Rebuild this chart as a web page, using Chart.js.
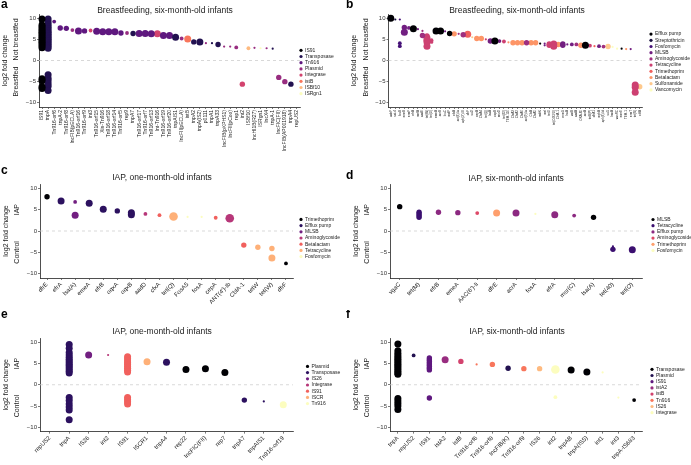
<!DOCTYPE html>
<html>
<head>
<meta charset="utf-8">
<script src="https://cdn.jsdelivr.net/npm/chart.js@4.4.1/dist/chart.umd.min.js"></script>
<style>
  body { margin: 0; background: #fff; }
  #fig { position: relative; width: 691px; height: 465px; overflow: hidden; }
  canvas { position: absolute; }
</style>
</head>
<body>
<div id="fig">
  <canvas id="pa" width="345" height="155" style="left:0;top:0"></canvas>
  <canvas id="pb" width="346" height="155" style="left:345px;top:0"></canvas>
  <canvas id="pc" width="345" height="155" style="left:0;top:155px"></canvas>
  <canvas id="pd" width="346" height="155" style="left:345px;top:155px"></canvas>
  <canvas id="pe" width="345" height="155" style="left:0;top:310px"></canvas>
  <canvas id="pf" width="346" height="155" style="left:345px;top:310px"></canvas>
</div>
<script>
const yTicks = [-10, -5, 0, 5, 10];

// a: breastfeeding, six-month-old, mobile elements
const aGenes = ["IS91", "tnpA", "Tn916-orf6", "tnpA-2", "Tn916-orf8", "IncFIB(pECLA)", "Tn916-orf16",
  "Tn916-orf9", "int3", "Tn916-orf15", "Xis-Tn916", "Tn916-orf18", "Tn916-orf14", "Tn916-orf5", "rep9",
  "tnpA7", "Tn916-orf17", "Tn916-orf7", "Tn916-orf13", "Int-Tn916", "Tn916-orf19", "Tn916-orf20",
  "tnpAIS1", "IncFII(pECLA)", "istB", "tnpA2", "tnpA(IS2)", "p0111", "tnpA1", "tnpA33",
  "IncFIB(pKPHS1)", "IncFII(pCoo)", "rep1", "int2", "ISBf10", "IncHI1B(R27)", "ISRgn1", "IncX4",
  "tnpA-1", "IncFIC(FII)", "IncFIB(AP001918)", "tnpA4", "repUS2"];
const aGroups = ["IS91", "Transposase", "Tn916", "Plasmid", "Integrase", "istB", "ISBf10", "ISRgn1"];
const aGroupOf = [0, 1, 2, 2, 2, 3, 2, 2, 4, 2, 2, 2, 2, 2, 3, 1, 2, 2, 2, 4, 2, 2, 1, 3, 5, 1, 1, 3, 1, 1,
  3, 3, 3, 4, 6, 3, 7, 3, 1, 3, 3, 1, 3];
const aLfc = [
  [9.8, 8.4, 8.0, 7.5, 7.1, 6.7, 6.3, 5.9, 5.5, 5.1, 4.7, 4.3, 3.9, 3.5, 3.0, -4.3, -4.8, -6.2, -6.6],
  [9.8, 9.1, 8.5, 8.0, 7.5, 7.0, 6.6, 6.2, 5.8, 5.4, 5.0, 4.6, 4.2, 3.8, 3.4, 2.9, -3.4, -4.2, -4.8, -5.5, -6.1, -7.1],
  [9.2], [7.7], [7.6], [7.2], [7.0], [7.0], [7.1], [6.9], [6.8], [6.8], [6.8], [6.5], [6.5], [6.4],
  [6.4], [6.4], [6.3], [6.3], [5.9], [5.9], [5.5], [5.2], [5.1], [4.4], [4.4], [4.1], [4.1], [3.8],
  [3.3], [3.3], [3.1], [-5.6], [2.9], [3.0], [2.9], [2.9], [2.8], [-4.0], [-5.0], [-5.6], []];
const aAbund = [4, 4, 2, 3, 3, 2, 4, 3, 2, 4, 4, 4, 4, 3, 2, 3, 4, 4, 4, 4, 4, 4, 4, 2, 4, 3, 4, 1, 1, 3,
  1, 1, 2, 3, 2, 1, 1, 1, 1, 3, 3, 3, 1];

// b: breastfeeding, six-month-old, resistance genes
const bGenes = ["adeF", "sat-4", "fosB", "ermB", "ermF", "efrA", "mefA", "aadE", "tet(W)", "tet(O)",
  "emeA", "acrB", "lnuC", "mdtF", "cfxA", "ant(6)-Ia", "aph(3')-III", "dfrF", "sul2", "cepA", "CfxA4",
  "tet(Q)", "lsaA", "oqxB", "msrD", "tet(32)", "TEM-116", "CfxA3", "CfxA2", "CfxA6", "ant(9)-Ia",
  "CfxA", "CfxA5", "mdtK", "mel", "tetO", "tet(O/32/O)", "CblA-1", "ermG", "lnuA", "vatB", "aadA",
  "OXA-85", "acrA", "tetB(P)", "dfrA1", "mphA", "aph(6)-Id", "sul1", "bacA", "vanRC", "emrE", "TEM-1",
  "ermT", "tet(X)", "cblA"];
const bGroups = ["Efflux pump", "Streptothricin", "Fosfomycin", "MLSB", "Aminoglycoside", "Tetracycline",
  "Trimethoprim", "Betalactam", "Sulfonamide", "Vancomycin"];
const bGroupOf = [0, 1, 2, 3, 3, 0, 3, 4, 5, 5, 0, 0, 3, 0, 7, 4, 4, 6, 8, 7, 7, 5, 3, 0, 3, 5, 7, 7, 7, 7,
  4, 7, 7, 0, 3, 5, 5, 7, 3, 3, 3, 4, 7, 0, 5, 6, 3, 4, 8, 9, 9, 0, 7, 3, 5, 8];
const bLfc = [[10.0], [9.7], [9.7, 4.1, 3.4], [7.8, 6.7], [7.7], [7.5], [7.4], [7.0, 5.9],
  [5.8, 5.3, 4.8, 4.4, 3.4], [4.8, 4.4], [7.0], [7.0], [6.9], [6.4], [6.3], [6.3], [6.1], [6.2], [5.5],
  [5.2], [5.2], [5.0], [4.6], [4.6], [4.6], [4.5], [4.3], [4.2], [4.2], [4.2], [4.2], [4.2], [4.2],
  [4.0], [4.0, 3.6], [3.6, 3.9], [3.9, 3.4], [3.8], [3.6, 3.9], [3.8], [3.8], [3.8], [3.6], [3.6],
  [3.5], [3.4], [3.4], [3.3], [3.3], [3.2], [2.8], [2.8], [2.7], [2.7], [-5.8, -6.3, -7.5], [-6.2]];
const bAbund = [4, 1, [1, 2, 2], [3, 4], 2, 4, 1, [1, 3], [3, 4, 4, 4, 4], 2, 4, 4, 1, 3, 3, 1, 3, 4, 1,
  3, 3, 1, 3, 4, 2, 2, 1, 3, 3, 3, 3, 3, 3, 1, 1, 3, 4, 3, 3, 1, 2, 2, 3, 4, 2, 1, 2, 2, 3, 1, 1, 1, 1, 1,
  4, 3];

// c: IAP, one-month-old, resistance genes
const cGenes = ["dfrE", "efrA", "lsa(A)", "emeA", "efrB", "oqxA", "oqxB", "aadD", "cfxA", "tet(Q)",
  "FosA5", "fosA", "cepA", "ANT(4')-Ib", "CblA-1", "tetW", "tet(W)", "dfrF"];
const cGroups = ["Trimethoprim", "Efflux pump", "MLSB", "Aminoglycoside", "Betalactam", "Tetracycline", "Fosfomycin"];
const cGroupOf = [0, 1, 2, 1, 1, 1, 1, 3, 4, 5, 6, 6, 4, 3, 4, 5, 5, 0];
const cLfc = [[8.0], [7.0], [6.8, 3.7], [6.5], [5.1], [4.7], [4.3, 3.8], [4.0], [3.7], [3.4], [3.3],
  [3.3], [3.1], [3.0], [-3.3], [-3.8], [-4.1, -6.3], [-7.6]];
const cAbund = [3, 4, [2, 4], 4, 4, 3, 4, 2, 2, 5, 1, 1, 2, 5, 3, 3, [3, 4], 2];

// d: IAP, six-month-old, resistance genes
const dGenes = ["vgaC", "tet(M)", "efrB", "emeA", "AAC(6')-Ii", "dfrE", "acrA", "fosA", "efrA", "msr(C)",
  "lsa(A)", "tet(40)", "tet(O)"];
const dGroups = ["MLSB", "Tetracycline", "Efflux pump", "Aminoglycoside", "Trimethoprim", "Fosfomycin"];
const dGroupOf = [0, 1, 2, 2, 3, 4, 2, 5, 2, 2, 0, 1, 1];
const dLfc = [[5.7], [4.4, 4.0, 3.6, 3.2], [4.4], [4.3], [4.2], [4.2], [4.2], [4.0], [3.8], [3.6], [3.2],
  [-3.6, -4.3], [-4.4]];
const dAbund = [3, 3, 3, 3, 2, 4, 4, 1, 4, 2, 3, [1, 3], 4];

// e: IAP, one-month-old, mobile elements
const eGenes = ["repUS2", "tnpA", "IS26", "int2", "IS91", "ISCR1", "tnpA4", "rep22", "IncFIC(FII)", "rep7",
  "tnpA7", "tnpAIS1", "Tn916-orf19"];
const eGroups = ["Plasmid", "Transposase", "IS26", "Integrase", "IS91", "ISCR", "Tn916"];
const eGroupOf = [0, 1, 2, 3, 4, 5, 1, 0, 0, 0, 1, 1, 6];
const eLfc = [[],
  [9.5, 8.6, 7.6, 7.0, 6.5, 6.0, 5.6, 5.2, 4.8, 4.4, 4.0, 3.6, 3.2, 2.8, -3.0, -3.7, -4.5, -5.2, -5.9, -8.2],
  [7.0], [7.0],
  [6.6, 6.1, 5.6, 5.2, 4.8, 4.3, 3.9, 3.4, 3.0, -3.0, -3.5, -4.0, -4.5],
  [5.4], [5.3], [3.6], [3.8], [2.9], [-3.6], [-3.9], [-4.7]];
const eAbund = [1, 4, 4, 1, 4, 4, 4, 4, 4, 4, 3, 1, 4];

// f: IAP, six-month-old, mobile elements
const fGenes = ["tnpA", "repUS2", "IS91", "istA2", "istB", "Tn916-orf6", "Tn916-orf8", "IncFIB(K)",
  "Tn916-orf9", "IS26", "int2", "tnpAB", "tnpA(IS5)", "int1", "int3", "tnpA-IS683"];
const fGroups = ["Transposase", "Plasmid", "IS91", "istA2", "istB", "Tn916", "IS26", "Integrase"];
const fGroupOf = [0, 1, 2, 3, 4, 5, 5, 1, 5, 6, 7, 0, 0, 7, 7, 0];
const fLfc = [
  [9.6, 8.0, 7.4, 6.9, 6.4, 6.0, 5.6, 5.2, 4.8, 4.4, 4.0, 3.6, 3.2, 2.8, 2.5, -3.2, -3.8, -4.4, -5.0, -5.8],
  [6.9], [6.3, 5.9, 5.5, 5.1, 4.7, 4.3, 3.9, 3.5, -3.1], [5.9], [5.5], [4.8], [4.8], [3.9], [3.8], [3.8],
  [3.6, -2.9], [3.5], [3.0], [2.9], [-3.0], [-3.6]];
const fAbund = [4, 2, 3, 4, 3, 1, 3, 3, 3, 3, [5, 2], 4, 4, 1, 1, 2];

// magma palettes
const magma6 = ["#000004", "#3B0F70", "#8C2981", "#DE4968", "#FE9F6D", "#FCFDBF"];
const magma7 = ["#000004", "#2C115F", "#721F81", "#B73779", "#F1605D", "#FEB078", "#FCFDBF"];
const magma8 = ["#000004", "#221150", "#5F187F", "#982D80", "#D3436E", "#F8765C", "#FEBA80", "#FCFDBF"];
const magma10 = ["#000004", "#180F3E", "#451077", "#721F81", "#9F2F7F", "#CD4071", "#F1605D", "#FD9567", "#FEC98D", "#FCFDBF"];

const FONT = "'Liberation Sans', Arial, sans-serif";
Chart.defaults.font.family = FONT;
Chart.defaults.color = "#222";

function radius(level) {
  return 0.8 * level + 0.3;
}

function buildDatasets(genes, groups, groupOf, lfc, abund, colors) {
  return groups.map((g, gi) => {
    const pts = [];
    genes.forEach((gene, i) => {
      if (groupOf[i] !== gi) return;
      lfc[i].forEach((v, j) => {
        const lv = Array.isArray(abund[i]) ? abund[i][j] : abund[i];
        pts.push({ x: gene, y: v, r: radius(lv) });
      });
    });
    return { label: g, data: pts, backgroundColor: colors[gi], borderWidth: 0 };
  });
}

function textPlugin(p) {
  return {
    id: "panelText",
    beforeDatasetsDraw(chart) {
      const { ctx, chartArea: a } = chart;
      const y0 = chart.scales.y.getPixelForValue(0);
      ctx.save();
      ctx.strokeStyle = "#cfcfcf";
      ctx.lineWidth = 0.8;
      ctx.setLineDash([3, 3]);
      ctx.beginPath();
      ctx.moveTo(a.left, y0);
      ctx.lineTo(a.right, y0);
      ctx.stroke();
      ctx.restore();
    },
    afterDraw(chart) {
      const { ctx, chartArea: a } = chart;
      const y = chart.scales.y;
      ctx.save();
      ctx.fillStyle = "#000";
      ctx.font = "bold 12px " + FONT;
      ctx.textAlign = "left";
      ctx.textBaseline = "alphabetic";
      ctx.fillText(p.letter, 1, p.letterY);

      ctx.fillStyle = "#222";
      ctx.font = "8.5px " + FONT;
      ctx.textAlign = "center";
      ctx.textBaseline = "middle";
      ctx.fillText(p.title, p.titleX, p.titleY);

      const side = (txt, x, yy) => {
        ctx.save();
        ctx.translate(x, yy);
        ctx.rotate(-Math.PI / 2);
        ctx.fillText(txt, 0, 0);
        ctx.restore();
      };
      ctx.font = "7px " + FONT;
      side("log2 fold change", a.left - 34, y.getPixelForValue(0));
      side(p.up, a.left - 22.5, y.getPixelForValue(5));
      side(p.down, a.left - 22.5, y.getPixelForValue(-5));

      ctx.font = "5px " + FONT;
      ctx.textAlign = "left";
      const ds = chart.data.datasets;
      const step = 6.2;
      const top = p.legY - (ds.length - 1) * step / 2;
      ds.forEach((d, i) => {
        const yy = top + i * step;
        ctx.fillStyle = d.backgroundColor;
        ctx.beginPath();
        ctx.arc(p.legX, yy, 1.6, 0, Math.PI * 2);
        ctx.fill();
        ctx.fillStyle = "#222";
        ctx.fillText(d.label, p.legX + 4, yy);
      });
      ctx.restore();
    }
  };
}

function makePanel(p) {
  const canvas = document.getElementById(p.id);
  const W = canvas.width, H = canvas.height;
  const yW = 20;
  new Chart(canvas, {
    type: "bubble",
    data: {
      labels: p.genes,
      datasets: buildDatasets(p.genes, p.groups, p.groupOf, p.lfc, p.abund, p.colors)
    },
    options: {
      responsive: false,
      animation: false,
      events: [],
      layout: { padding: { left: p.axisX - yW, right: W - p.right, top: p.top, bottom: 0 } },
      plugins: { legend: { display: false }, tooltip: { enabled: false } },
      scales: {
        x: {
          type: "category",
          offset: true,
          grid: { display: true, drawOnChartArea: false, offset: false, tickLength: 2, color: "#222", lineWidth: 0.6 },
          border: { display: true, color: "#222", width: 0.8 },
          ticks: { autoSkip: false, minRotation: p.rot, maxRotation: p.rot, padding: 1, color: "#222", font: { size: p.xFont } },
          afterFit: (s) => { s.height = H - p.bottom; }
        },
        y: {
          min: -11,
          max: 11,
          afterBuildTicks: (s) => { s.ticks = yTicks.map((v) => ({ value: v })); },
          grid: { display: true, drawOnChartArea: false, tickLength: 2, color: "#222", lineWidth: 0.6 },
          border: { display: true, color: "#222", width: 0.8 },
          ticks: { padding: 1, color: "#333", font: { size: 6 }, callback: (v) => String(v).replace("-", "\u2212") },
          afterFit: (s) => { s.width = yW; }
        }
      }
    },
    plugins: [textPlugin(p)]
  });
}

const bfTitle = "Breastfeeding, six-month-old infants";

makePanel({ id: "pa", genes: aGenes, groups: aGroups, groupOf: aGroupOf, lfc: aLfc, abund: aAbund, colors: magma8,
  letter: "a", letterY: 8, title: bfTitle, titleX: 165, titleY: 11, up: "Not breastfed", down: "Breastfed",
  axisX: 39, right: 300, top: 14, bottom: 107, legX: 301, legY: 72, rot: 90, xFont: 5 });

makePanel({ id: "pb", genes: bGenes, groups: bGroups, groupOf: bGroupOf, lfc: bLfc, abund: bAbund, colors: magma10,
  letter: "b", letterY: 8, title: bfTitle, titleX: 172, titleY: 11, up: "Not breastfed", down: "Breastfed",
  axisX: 43.5, right: 297, top: 14, bottom: 107, legX: 306, legY: 62, rot: 90, xFont: 3 });

makePanel({ id: "pc", genes: cGenes, groups: cGroups, groupOf: cGroupOf, lfc: cLfc, abund: cAbund, colors: magma7,
  letter: "c", letterY: 19, title: "IAP, one-month-old infants", titleX: 162, titleY: 23, up: "IAP", down: "Control",
  axisX: 40, right: 293, top: 29, bottom: 123, legX: 301, legY: 83, rot: 45, xFont: 6 });

makePanel({ id: "pd", genes: dGenes, groups: dGroups, groupOf: dGroupOf, lfc: dLfc, abund: dAbund, colors: magma6,
  letter: "d", letterY: 24, title: "IAP, six-month-old infants", titleX: 171, titleY: 24, up: "IAP", down: "Control",
  axisX: 45, right: 297, top: 29, bottom: 123, legX: 308, legY: 80, rot: 45, xFont: 6 });

makePanel({ id: "pe", genes: eGenes, groups: eGroups, groupOf: eGroupOf, lfc: eLfc, abund: eAbund, colors: magma7,
  letter: "e", letterY: 8, title: "IAP, one-month-old infants", titleX: 162, titleY: 22, up: "IAP", down: "Control",
  axisX: 40, right: 293, top: 28, bottom: 121.6, legX: 307.5, legY: 75, rot: 45, xFont: 6 });

makePanel({ id: "pf", genes: fGenes, groups: fGroups, groupOf: fGroupOf, lfc: fLfc, abund: fAbund, colors: magma8,
  letter: "f", letterY: 8, title: "IAP, six-month-old infants", titleX: 172, titleY: 22, up: "IAP", down: "Control",
  axisX: 45, right: 297, top: 28, bottom: 121.6, legX: 307, legY: 81, rot: 45, xFont: 6 });
</script>
</body>
</html>
